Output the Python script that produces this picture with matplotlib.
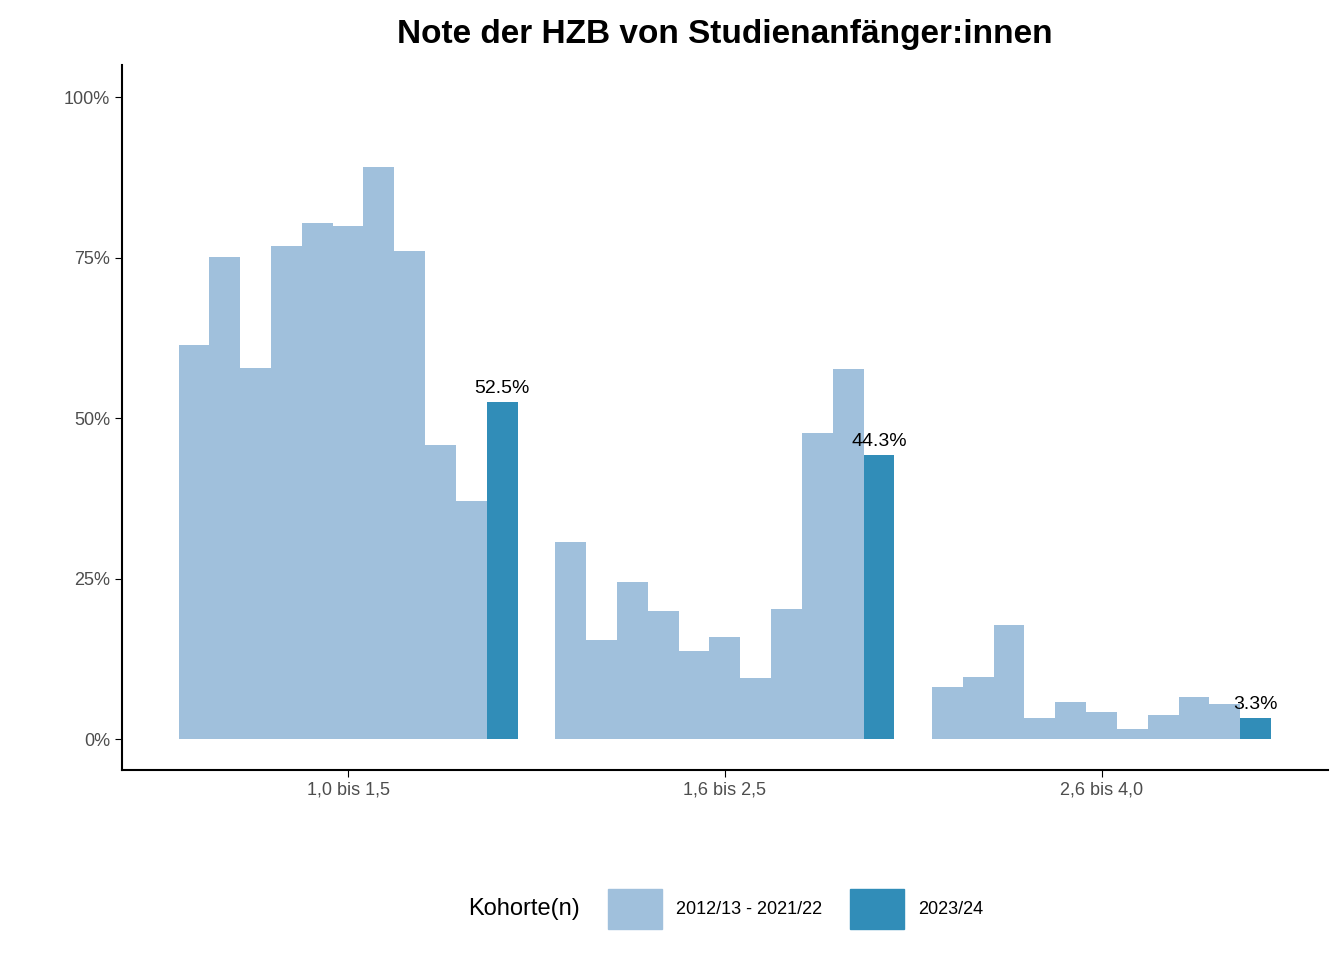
import matplotlib
matplotlib.use("Agg")
import matplotlib.pyplot as plt
from matplotlib.patches import Patch
from matplotlib.ticker import FuncFormatter

plt.rcParams["font.family"] = "Liberation Sans"

categories = ["1,0 bis 1,5", "1,6 bis 2,5", "2,6 bis 4,0"]
history = [
    [61.4, 75.1, 57.8, 76.8, 80.5, 79.9, 89.1, 76.0, 45.8, 37.1],
    [30.7, 15.4, 24.5, 19.9, 13.7, 15.9, 9.5, 20.2, 47.7, 57.6],
    [8.1, 9.7, 17.8, 3.3, 5.8, 4.2, 1.6, 3.7, 6.5, 5.5],
]
current = [52.5, 44.3, 3.3]
legend_labels = ["2012/13 - 2021/22", "2023/24"]
light, dark = "#A0C0DC", "#318DB8"

fig = plt.figure(figsize=(13.44, 9.6), dpi=100)
ax = fig.add_axes([0.0908, 0.198, 0.897, 0.734])
n = 11
w = 0.9 / n
for gi, cat in enumerate(categories):
    center = gi + 1
    vals = history[gi] + [current[gi]]
    for j, v in enumerate(vals):
        x = center - 0.45 + w * (j + 0.5)
        ax.bar(x, v, width=w, color=dark if j == n - 1 else light, linewidth=0)
        if j == n - 1:
            ax.text(x, v + 0.8, f"{v:.1f}%", ha="center", va="bottom", fontsize=14)

ax.set_xlim(0.4, 3.6)
ax.set_ylim(-4.8, 105)
ax.set_xticks([1, 2, 3])
ax.set_xticklabels(categories, fontsize=13, color="#4D4D4D")
ax.set_yticks([0, 25, 50, 75, 100])
ax.yaxis.set_major_formatter(FuncFormatter(lambda v, p: f"{v:.0f}%"))
ax.tick_params(axis="y", labelsize=13, labelcolor="#4D4D4D", length=5)
ax.tick_params(axis="x", length=5)
for s in ["top", "right"]:
    ax.spines[s].set_visible(False)
for s in ["left", "bottom"]:
    ax.spines[s].set_linewidth(1.5)
ax.set_title("Note der HZB von Studienanfänger:innen", fontsize=24, fontweight="bold", pad=16)

handles = [Patch(color=light), Patch(color=dark)]
fig.legend(handles, legend_labels, loc="center", bbox_to_anchor=(0.54, 0.053), ncol=2,
           frameon=False, fontsize=13, title="Kohorte(n)", title_fontsize=17,
           handlelength=3, handleheight=3, columnspacing=1.5, alignment="left")
leg = fig.legends[0]
leg._legend_box.align = "left"
# put title to the left of entries
from matplotlib.offsetbox import HPacker
box = leg._legend_box
box.__class__ = HPacker
box.sep = 20
box.align = "center"
fig.savefig("out.png", dpi=100)
